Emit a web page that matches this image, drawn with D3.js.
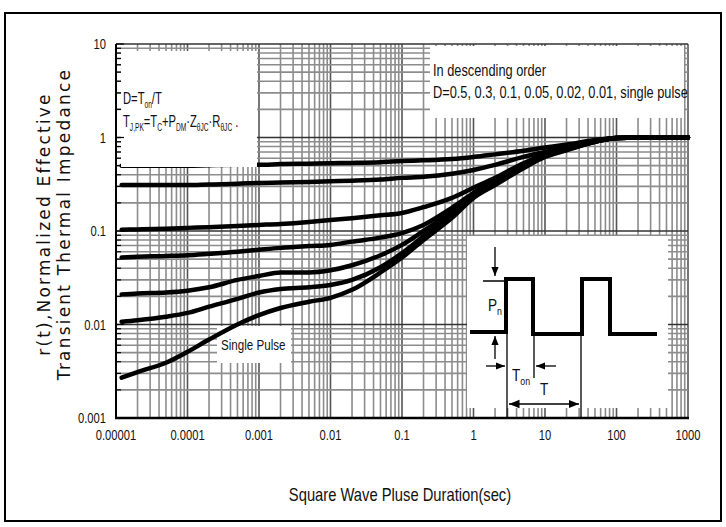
<!DOCTYPE html>
<html><head><meta charset="utf-8">
<script src="https://cdn.jsdelivr.net/npm/d3@7"></script>
<style>body{margin:0;background:#fff}svg{display:block}</style>
</head><body><svg id="c" width="726" height="527"></svg>
<script>
const times = [1.2e-5,2e-5,5e-5,1e-4,2e-4,5e-4,1e-3,2e-3,5e-3,1e-2,2e-2,5e-2,0.1,0.2,0.5,1,2,5,10,20,50,100,200,1000];
const seriesNames = ["D=0.5","D=0.3","D=0.1","D=0.05","D=0.02","D=0.01","Single Pulse"];
const d05  = [0.50,0.50,0.50,0.50,0.505,0.51,0.51,0.52,0.525,0.53,0.535,0.545,0.56,0.57,0.59,0.62,0.66,0.72,0.78,0.84,0.94,0.99,1.0,1.0];
const d03  = [0.31,0.31,0.31,0.31,0.315,0.32,0.327,0.33,0.335,0.34,0.345,0.355,0.37,0.38,0.41,0.45,0.51,0.62,0.70,0.79,0.92,0.99,1.0,1.0];
const d01  = [0.103,0.104,0.106,0.108,0.110,0.113,0.116,0.119,0.125,0.131,0.137,0.147,0.156,0.18,0.226,0.29,0.37,0.53,0.66,0.77,0.91,0.99,1.0,1.0];
const d005 = [0.052,0.053,0.054,0.055,0.057,0.060,0.063,0.066,0.069,0.071,0.077,0.085,0.095,0.116,0.177,0.255,0.35,0.51,0.65,0.76,0.91,0.99,1.0,1.0];
const d002 = [0.021,0.0215,0.022,0.023,0.025,0.030,0.033,0.036,0.036,0.038,0.043,0.055,0.071,0.10,0.16,0.24,0.33,0.49,0.64,0.75,0.90,0.99,1.0,1.0];
const d001 = [0.0107,0.0111,0.0121,0.0133,0.0155,0.0188,0.0220,0.0240,0.0250,0.0265,0.030,0.041,0.058,0.088,0.149,0.23,0.32,0.48,0.63,0.74,0.90,0.99,1.0,1.0];
const single = [0.0027,0.0031,0.0039,0.0051,0.0069,0.0100,0.0126,0.0150,0.0175,0.0193,0.0235,0.036,0.052,0.080,0.138,0.226,0.31,0.47,0.62,0.73,0.90,0.99,1.0,1.0];
const xTickValues = [1e-5,1e-4,1e-3,1e-2,0.1,1,10,100,1000];
const xTickLabels = ["0.00001","0.0001","0.001","0.01","0.1","1","10","100","1000"];
const yTickValues = [0.001,0.01,0.1,1,10];
const yTickLabels = ["0.001","0.01","0.1","1","10"];

const svg = d3.select("#c");
const L=116,R=688,T=44,B=418;
const x = d3.scaleLog().domain([1e-5,1000]).range([L,R]);
const y = d3.scaleLog().domain([0.001,10]).range([B,T]);
const narrow = "'Liberation Sans', Arial, sans-serif";

function ntext(g, px, py, size, anchor, sx){
  return g.append("text").attr("transform",`translate(${px},${py}) scale(${sx||0.8},1)`)
    .attr("font-family",narrow).attr("font-size",size).attr("fill","#111")
    .attr("text-anchor",anchor||"start");
}

// outer border
svg.append("rect").attr("x",5).attr("y",13).attr("width",716).attr("height",508)
  .attr("fill","none").attr("stroke","#000").attr("stroke-width",2);

// grid
const minorX=[], minorY=[];
for(let e=-5;e<3;e++) for(let k=1;k<10;k++) minorX.push(k*Math.pow(10,e));
minorX.push(1000);
for(let e=-3;e<1;e++) for(let k=1;k<10;k++) minorY.push(k*Math.pow(10,e));
minorY.push(10);
const isMajor = (arr,d)=>arr.some(v=>Math.abs(v/d-1)<1e-6);
const grid = svg.append("g");
grid.selectAll("line.vx").data(minorX).join("line")
  .attr("x1",d=>x(d)).attr("x2",d=>x(d)).attr("y1",T).attr("y2",B)
  .attr("stroke",d=>isMajor(xTickValues,d)?"#555":"#8c8c8c").attr("stroke-width",1.6);
grid.selectAll("line.hy").data(minorY).join("line")
  .attr("y1",d=>y(d)).attr("y2",d=>y(d)).attr("x1",L).attr("x2",R)
  .attr("stroke",d=>isMajor(yTickValues,d)?"#333":"#8c8c8c").attr("stroke-width",1.6);

// white masking boxes (behind curves)
svg.append("rect").attr("x",430).attr("y",46).attr("width",254).attr("height",72).attr("fill","#fff");
svg.append("rect").attr("x",217).attr("y",326).attr("width",74).attr("height",37).attr("fill","#fff");
svg.append("rect").attr("x",467).attr("y",236).attr("width",201).attr("height",172).attr("fill","#fff");

// curves
const allSeries = [d05,d03,d01,d005,d002,d001,single];
const line = d3.line().x((d,i)=>x(times[i])).y(d=>y(d)).curve(d3.curveMonotoneX);
svg.append("g").selectAll("path").data(allSeries).join("path")
  .attr("d",line).attr("fill","none").attr("stroke","#000").attr("stroke-width",4.5)
  .attr("stroke-linecap","round").attr("stroke-linejoin","round");

// top-left box over curves
svg.append("rect").attr("x",121).attr("y",51).attr("width",136).attr("height",116).attr("fill","#fff");

// axes
svg.append("line").attr("x1",L).attr("x2",L).attr("y1",T).attr("y2",B).attr("stroke","#000").attr("stroke-width",2);
svg.append("line").attr("x1",L-1).attr("x2",R+1).attr("y1",B).attr("y2",B).attr("stroke","#000").attr("stroke-width",2.5);
svg.append("g").selectAll("line").data(minorY).join("line")
  .attr("x1",L).attr("x2",d=>isMajor(yTickValues,d)?L+8:L+5)
  .attr("y1",d=>y(d)).attr("y2",d=>y(d)).attr("stroke","#000").attr("stroke-width",1.2);

// tick labels
const tl = svg.append("g");
xTickValues.forEach((v,i)=>ntext(tl,x(v),440,14,"middle").text(xTickLabels[i]));
yTickValues.forEach((v,i)=>ntext(tl,106,y(v)+5,14,"end").text(yTickLabels[i]));

// axis titles
ntext(svg,400,501,18,"middle",0.82).text("Square Wave Pluse Duration(sec)");
const yt = svg.append("g").attr("font-family","'DejaVu Sans', Verdana, sans-serif").attr("font-size",17)
  .attr("letter-spacing",2.2).attr("fill","#111").attr("text-anchor","middle");
yt.append("text").attr("transform","translate(50,224) rotate(-90)").text("r(t),Normalized Effective");
yt.append("text").attr("transform","translate(70,224) rotate(-90)").text("Transient Thermal Impedance");

// annotations
const a1 = ntext(svg,123,104,17,"start",0.66);
a1.append("tspan").text("D=T");
a1.append("tspan").attr("font-size",10).attr("dy",4).text("on");
a1.append("tspan").attr("dy",-4).text("/T");
const a2 = ntext(svg,123,127,17,"start",0.66);
[["T",""],["J,PK","s"],["=T",""],["C","s"],["+P",""],["DM","s"],["·Z",""],["θJC","s"],["·R",""],["θJC","s"],["  .",""]].forEach(([s,k],i)=>{
  a2.append("tspan").attr("font-size",k?10:17).attr("dy",k?4:(i===0?0:-4)).text(s);
});
ntext(svg,433,76,16,"start").text("In descending order");
ntext(svg,433,98,16,"start").text("D=0.5, 0.3, 0.1, 0.05, 0.02, 0.01, single pulse");
ntext(svg,221,350,14.5,"start").text("Single Pulse");

// inset pulse diagram
const inset = svg.append("g").attr("stroke","#000").attr("fill","none");
const defs = svg.append("defs");
defs.append("marker").attr("id","ah").attr("viewBox","0 0 10 10").attr("refX",10).attr("refY",5)
  .attr("markerWidth",7).attr("markerHeight",7).attr("orient","auto-start-reverse")
  .append("path").attr("d","M0,1 L10,5 L0,9 Z").attr("fill","#000");
inset.append("path").attr("stroke-width",4)
  .attr("d","M470,332 H506 V279 H533 V334 H582 V279 H610 V334 H657");
inset.append("line").attr("x1",483).attr("x2",506).attr("y1",281).attr("y2",281).attr("stroke-width",1.5);
inset.append("line").attr("x1",495).attr("x2",495).attr("y1",247).attr("y2",276).attr("stroke-width",1.3).attr("marker-end","url(#ah)");
inset.append("line").attr("x1",495).attr("x2",495).attr("y1",359).attr("y2",336).attr("stroke-width",1.3).attr("marker-end","url(#ah)");
inset.append("line").attr("x1",507).attr("x2",507).attr("y1",279).attr("y2",418).attr("stroke-width",1.3);
inset.append("line").attr("x1",534).attr("x2",534).attr("y1",334).attr("y2",378).attr("stroke-width",1.3);
inset.append("line").attr("x1",581).attr("x2",581).attr("y1",334).attr("y2",418).attr("stroke-width",1.3);
inset.append("line").attr("x1",486).attr("x2",505).attr("y1",366).attr("y2",366).attr("stroke-width",1.3).attr("marker-end","url(#ah)");
inset.append("line").attr("x1",556).attr("x2",536).attr("y1",366).attr("y2",366).attr("stroke-width",1.3).attr("marker-end","url(#ah)");
inset.append("line").attr("x1",509).attr("x2",579).attr("y1",404).attr("y2",404).attr("stroke-width",1.5)
  .attr("marker-start","url(#ah)").attr("marker-end","url(#ah)");
const pn = ntext(svg,488,311,17,"start");
pn.append("tspan").text("P");
pn.append("tspan").attr("font-size",11).attr("dy",4).text("n");
const ton = ntext(svg,512,381,17,"start");
ton.append("tspan").text("T");
ton.append("tspan").attr("font-size",11).attr("dy",4).text("on");
ntext(svg,540,395,17,"start").text("T");
</script></body></html>
